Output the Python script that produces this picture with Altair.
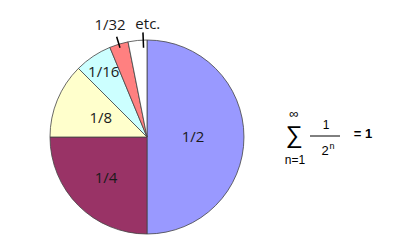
import altair as alt
import pandas as pd

labels = ["1/2", "1/4", "1/8", "1/16", "1/32", "etc."]
values = [1/2, 1/4, 1/8, 1/16, 1/32, 1/32]
colors = ["#9999ff", "#993366", "#ffffcc", "#ccffff", "#ff8080", "#ffffff"]

df = pd.DataFrame({"label": labels, "value": values})
df["end"] = df["value"].cumsum()
df["start"] = df["end"] - df["value"]
df["mid"] = (df["start"] + df["end"]) / 2

CX, CY, R = 147, 137, 97
theta_scale = alt.Scale(domain=[0, 1], range=[0, 6.283185307])
color_scale = alt.Scale(domain=labels, range=colors)

base = alt.Chart(df).encode(x=alt.value(CX), y=alt.value(CY))

pie = base.mark_arc(radius=R, stroke="#444444", strokeWidth=0.8).encode(
    theta=alt.Theta("start:Q", scale=theta_scale),
    theta2="end:Q",
    color=alt.Color("label:N", scale=color_scale, legend=None),
)

label_style = {
    "1/2": dict(radius=46, dx=0),
    "1/4": dict(radius=58, dx=0),
    "1/8": dict(radius=50, dx=0),
    "1/16": dict(radius=78, dx=0),
    "1/32": dict(radius=117, dx=-3),
    "etc.": dict(radius=114, dx=12),
}
layers = [pie]
for lab, st in label_style.items():
    layers.append(
        base.transform_filter(alt.datum.label == lab)
        .mark_text(radius=st["radius"], dx=st["dx"], fontSize=15, font="Open Sans", color="#1a1a1a")
        .encode(theta=alt.Theta("mid:Q", scale=theta_scale), text="label:N")
    )

# leader lines (radial strokes)
lead_pos = {"1/32": (0.5, 94, 104), "etc.": (0.8, 90, 104)}
for lab, (frac, r1, r2) in lead_pos.items():
    layers.append(
        base.transform_filter(alt.datum.label == lab)
        .transform_calculate(a=f"datum.start + {frac} * datum.value", a2=f"datum.start + {frac} * datum.value + 0.0002")
        .mark_arc(radius=r1, radius2=r2, stroke="#000000", strokeWidth=1.4, fill="#000000")
        .encode(theta=alt.Theta("a:Q", scale=theta_scale), theta2="a2:Q")
    )

ann = alt.Chart(pd.DataFrame({"k": [0]}))
def txt(t, x, y, size, weight="normal"):
    return ann.mark_text(text=t, fontSize=size, font="Liberation Sans", fontWeight=weight,
                         color="#000000", baseline="middle", align="center").encode(
        x=alt.value(x), y=alt.value(y))

layers += [
    txt("∞", 294, 114, 13),
    txt("∑", 294, 136, 24),
    txt("n=1", 295, 160, 12),
    txt("1", 326, 125, 12),
    txt("2", 325, 151, 13),
    txt("n", 332, 146, 9),
    txt("= 1", 363, 134, 13, "bold"),
    ann.mark_rule(color="#000000", strokeWidth=1).encode(
        x=alt.value(310), x2=alt.value(340), y=alt.value(136)),
]

chart = alt.layer(*layers).properties(
    width=400, height=250, autosize=alt.AutoSizeParams(type="none"), padding=0,
    background="white"
).configure_view(stroke=None)

chart.save("out.html", embed_options={"renderer": "svg", "actions": False})
